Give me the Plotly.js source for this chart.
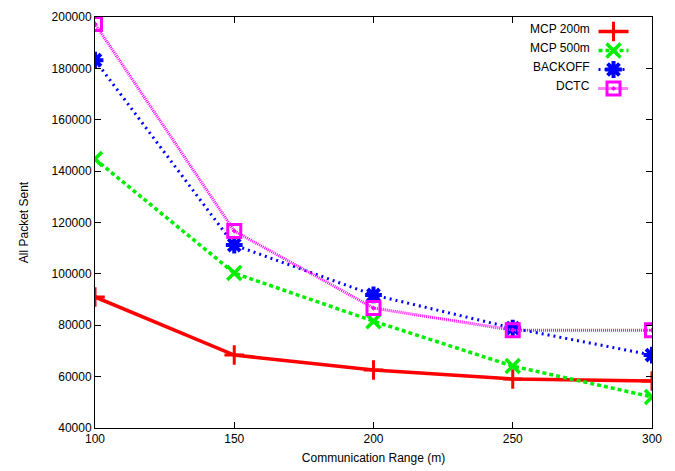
<!DOCTYPE html>
<html>
<head>
<meta charset="utf-8">
<script src="https://cdn.plot.ly/plotly-3.0.1.min.js"></script>
<style>html,body{margin:0;padding:0;background:#fff;}#chart{width:675px;height:471px;}</style>
</head>
<body>
<div id="chart"></div>
<script>
var ranges = [100, 150, 200, 250, 300];
var mcp200 = [91000, 68400, 62600, 59100, 58300];
var mcp500 = [144700, 100300, 81600, 64100, 52100];
var backoff = [183200, 111200, 91800, 78900, 68400];
var dctc = [197300, 116700, 86700, 78100, 78100];
var seriesNames = ['MCP 200m', 'MCP 500m', 'BACKOFF', 'DCTC'];
var xTicks = [100, 150, 200, 250, 300];
var yTicks = [40000, 60000, 80000, 100000, 120000, 140000, 160000, 180000, 200000];

var FONT = 'Liberation Sans, Arial, sans-serif';

var traces = [
  {x: ranges, y: mcp200, name: '', mode: 'lines+markers',
   line: {color: '#ff0000', width: 3.5},
   marker: {symbol: 'cross-thin-open', size: 14, line: {color: '#ff0000', width: 3}}},
  {x: ranges, y: mcp500, name: '', mode: 'lines+markers',
   line: {color: '#00ee00', width: 3.5, dash: '4px,3px'},
   marker: {symbol: 'x-thin-open', size: 14, line: {color: '#00ee00', width: 3.5}}},
  {x: ranges, y: backoff, name: '', mode: 'lines+markers',
   line: {color: '#0000ff', width: 3, dash: '2px,4px'},
   marker: {symbol: 'asterisk-open', size: 14, line: {color: '#0000ff', width: 4}}},
  {x: ranges, y: dctc, name: '', mode: 'lines+markers',
   line: {color: '#ff00ff', width: 3, dash: '1px,1px'},
   marker: {symbol: 'square-open-dot', size: 13, color: '#ff00ff', line: {color: '#ff00ff', width: 3}}}
];

var axisCommon = {
  showline: true, linecolor: '#000', linewidth: 1, mirror: 'allticks',
  ticks: 'inside', ticklen: 6, tickcolor: '#000', tickwidth: 1,
  showgrid: false, zeroline: false,
  tickfont: {family: FONT, size: 12, color: '#000'}
};

// legend geometry (paper coords relative to plot area)
var legX = 0.895, legTop = 1.0, itemH = 19 / 411, firstOff = 12 / 411;
var annotations = seriesNames.map(function (n, i) {
  return {xref: 'paper', yref: 'paper', x: legX - 0.002, y: legTop - firstOff - i * itemH,
    xanchor: 'right', yanchor: 'middle', text: n, showarrow: false,
    font: {family: FONT, size: 12, color: '#000'}};
});

var layout = {
  width: 675, height: 471,
  margin: {l: 95, r: 23, t: 17, b: 43},
  paper_bgcolor: '#fff', plot_bgcolor: '#fff',
  font: {family: FONT, size: 12, color: '#000'},
  xaxis: Object.assign({}, axisCommon, {
    range: [100, 300], tickvals: xTicks, ticktext: xTicks.map(String),
    title: {text: 'Communication Range (m)', font: {size: 12}, standoff: 8}
  }),
  yaxis: Object.assign({}, axisCommon, {
    range: [40000, 200000], tickvals: yTicks, ticktext: yTicks.map(String),
    title: {text: 'All Packet Sent', font: {size: 12}, standoff: 20}
  }),
  showlegend: true,
  legend: {x: legX, y: legTop, xanchor: 'left', yanchor: 'top',
    bgcolor: 'rgba(255,255,255,0)', borderwidth: 0,
    font: {size: 12}, tracegroupgap: 0, itemwidth: 30},
  annotations: annotations
};

Plotly.newPlot('chart', traces, layout, {staticPlot: true, displayModeBar: false});
</script>
</body>
</html>
